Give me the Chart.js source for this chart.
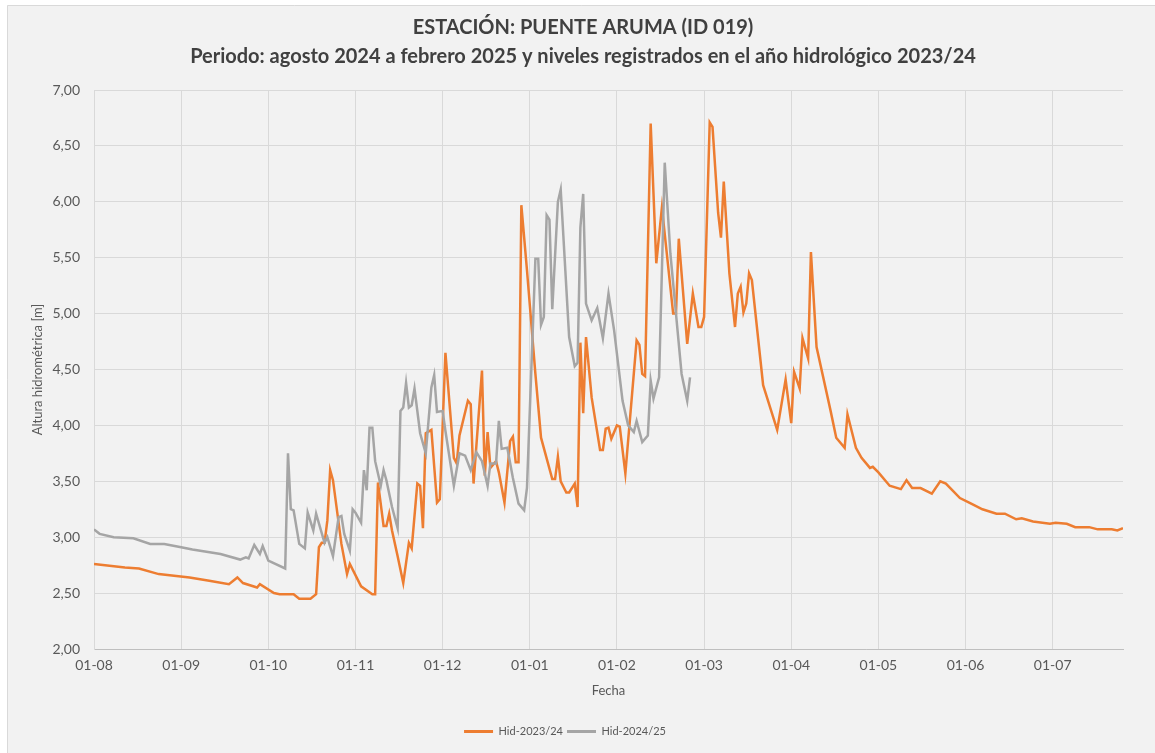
<!DOCTYPE html>
<html lang="es">
<head>
<meta charset="utf-8">
<title>Puente Aruma (ID 019)</title>
<script src="https://cdn.jsdelivr.net/npm/chart.js@4.4.1/dist/chart.umd.min.js"></script>
<style>
  html, body { margin: 0; padding: 0; background: #fff; }
  #wrap { position: relative; width: 1155px; height: 753px; }
</style>
</head>
<body>
<div id="wrap"><canvas id="chart"></canvas></div>
<script>
// titles
const titleLines = [
  'ESTACIÓN: PUENTE ARUMA (ID 019)',
  'Periodo: agosto 2024 a febrero 2025 y niveles registrados en el año hidrológico 2023/24'
];
const xTitle = 'Fecha';
const yTitle = 'Altura hidrométrica [m]';

// x axis: days counted from 01-08, one label every 31 days
const monthLabels = ['01-08','01-09','01-10','01-11','01-12','01-01','01-02','01-03','01-04','01-05','01-06','01-07'];
const monthDays = [0, 31, 62, 93, 124, 155, 186, 217, 248, 279, 310, 341];
const lastDay = 366;

// Hid-2023/24 (orange)
const hid2324Days = [0,11,16,23,34,41,48,51,53,58,59,64,66,71,73,77,79,80,81,82,83,84,85,88,90,91,95,99,100,101,
  103,104,105,106,108,110,112,113,115,116,117,118,120,122,123,125,128,129,130,133,134,135,138,139,140,141,143,144,146,148,
  149,150,151,152,154,157,159,163,164,165,166,168,169,171,172,173,174,175,177,180,181,182,183,184,186,187,189,193,194,195,
  196,198,200,202,206,207,208,211,213,215,216,217,219,220,222,223,224,226,228,229,230,231,232,233,234,238,239,243,246,248,
  249,251,252,254,255,257,262,264,267,268,271,273,276,277,279,283,287,289,291,294,298,301,303,308,312,316,321,324,328,330,
  334,340,342,346,349,354,357,362,364,366];
const hid2324 = [2.76,2.73,2.72,2.67,2.64,2.61,2.58,2.64,2.59,2.55,2.58,2.50,2.49,2.49,2.45,2.45,2.49,2.91,2.95,2.95,3.15,3.60,3.51,2.94,2.67,2.76,2.56,2.49,2.49,3.49,
  3.10,3.10,3.21,3.06,2.83,2.59,2.95,2.90,3.48,3.46,3.08,3.93,3.96,3.31,3.34,4.65,3.71,3.66,3.91,4.22,4.19,3.48,4.49,3.55,3.94,3.62,3.68,3.58,3.31,3.86,
  3.90,3.67,3.67,5.97,5.39,4.46,3.89,3.52,3.52,3.72,3.50,3.40,3.40,3.48,3.27,4.74,4.11,4.79,4.25,3.78,3.78,3.97,3.98,3.88,4.00,3.99,3.57,4.76,4.72,4.46,
  4.44,6.70,5.45,5.95,5.00,5.00,5.67,4.73,5.18,4.88,4.88,4.97,6.71,6.67,5.90,5.68,6.18,5.36,4.88,5.18,5.24,5.01,5.09,5.36,5.30,4.36,4.28,3.96,4.41,4.02,
  4.48,4.33,4.78,4.60,5.55,4.70,4.13,3.89,3.80,4.10,3.80,3.71,3.62,3.63,3.58,3.46,3.43,3.51,3.44,3.44,3.39,3.50,3.48,3.35,3.30,3.25,3.21,3.21,3.16,3.17,
  3.14,3.12,3.13,3.12,3.09,3.09,3.07,3.07,3.06,3.08];

// Hid-2024/25 (gray)
const hid2425Days = [0,2,7,14,20,25,31,35,45,52,54,55,57,59,60,62,68,69,70,71,73,75,76,78,79,82,83,85,87,88,
  89,91,92,93,95,96,97,98,99,100,102,103,104,106,108,109,110,111,112,113,114,116,118,120,121,122,124,125,128,130,
  132,134,136,138,140,141,143,144,145,147,149,151,153,154,157,158,159,160,161,162,163,165,166,169,171,172,173,174,175,177,
  179,181,183,185,188,190,192,193,195,197,198,199,201,203,205,207,209,211,212];
const hid2425 = [3.07,3.03,3.00,2.99,2.94,2.94,2.91,2.89,2.85,2.80,2.82,2.81,2.93,2.85,2.92,2.79,2.72,3.75,3.25,3.24,2.94,2.90,3.22,3.06,3.21,2.95,3.00,2.83,3.18,3.19,
  3.03,2.88,3.25,3.22,3.13,3.60,3.42,3.98,3.98,3.68,3.46,3.60,3.51,3.27,3.08,4.13,4.16,4.38,4.16,4.18,4.33,3.93,3.75,4.34,4.45,4.12,4.13,3.95,3.46,3.75,
  3.73,3.60,3.76,3.68,3.46,3.66,3.66,4.04,3.79,3.80,3.53,3.30,3.24,3.44,5.49,5.49,4.90,4.97,5.88,5.84,5.04,6.00,6.11,4.79,4.53,4.56,5.77,6.07,5.09,4.94,
  5.05,4.78,5.18,4.85,4.22,4.00,3.94,4.04,3.85,3.91,4.40,4.24,4.43,6.35,5.54,5.00,4.46,4.22,4.43];

const toPoints = (days, vals) => days.map((d, i) => ({ x: d, y: vals[i] }));

Chart.defaults.font.family = 'Lato';
Chart.defaults.color = '#595959';

// grey panel behind everything, thin border on left/top like the original frame
const panelPlugin = {
  id: 'panel',
  beforeDraw(chart) {
    const ctx = chart.ctx;
    ctx.save();
    ctx.fillStyle = '#ffffff';
    ctx.fillRect(0, 0, chart.width, chart.height);
    ctx.fillStyle = '#f2f2f2';
    ctx.fillRect(7, 5, chart.width - 7, chart.height - 5);
    ctx.strokeStyle = '#d9d9d9';
    ctx.lineWidth = 1;
    ctx.beginPath();
    ctx.moveTo(7.5, chart.height);
    ctx.lineTo(7.5, 5.5);
    ctx.lineTo(chart.width, 5.5);
    ctx.stroke();
    ctx.restore();
  }
};

// two-line title centred on the whole panel
const titlePlugin = {
  id: 'panelTitle',
  afterDraw(chart) {
    const ctx = chart.ctx;
    ctx.save();
    ctx.fillStyle = '#404040';
    ctx.font = 'bold 20px Lato';
    ctx.textAlign = 'center';
    ctx.textBaseline = 'middle';
    ctx.fillText(titleLines[0], 583, 28);
    ctx.fillText(titleLines[1], 583, 57);
    ctx.restore();
  }
};

const ctx = document.getElementById('chart').getContext('2d');
new Chart(ctx, {
  type: 'line',
  data: {
    datasets: [
      {
        label: 'Hid-2023/24',
        data: toPoints(hid2324Days, hid2324),
        borderColor: '#ed7d31',
        backgroundColor: '#ed7d31',
        borderWidth: 2.5,
        pointRadius: 0,
        tension: 0,
        order: 1
      },
      {
        label: 'Hid-2024/25',
        data: toPoints(hid2425Days, hid2425),
        borderColor: '#a5a5a5',
        backgroundColor: '#a5a5a5',
        borderWidth: 2.5,
        pointRadius: 0,
        tension: 0,
        order: 0
      }
    ]
  },
  options: {
    responsive: true,
    maintainAspectRatio: false,
    animation: false,
    layout: { padding: { left: 7, right: 32, top: 90, bottom: 6 } },
    plugins: {
      title: { display: false },
      tooltip: { enabled: false },
      legend: {
        position: 'bottom',
        labels: {
          boxWidth: 29,
          boxHeight: 3,
          padding: 4,
          color: '#595959',
          font: { size: 11 },
          generateLabels(chart) {
            const items = Chart.defaults.plugins.legend.labels.generateLabels(chart);
            items.forEach(it => { it.lineWidth = 0; });
            return items.sort((a, b) => a.datasetIndex - b.datasetIndex);
          }
        }
      }
    },
    scales: {
      x: {
        type: 'linear',
        min: 0,
        max: lastDay,
        afterBuildTicks: s => { s.ticks = monthDays.map(v => ({ value: v })); },
        afterFit: s => { s.height = 73; },
        grid: { color: '#d9d9d9', drawTicks: false },
        border: { color: '#bfbfbf' },
        ticks: {
          padding: 8,
          autoSkip: false,
          maxRotation: 0,
          font: { size: 14 },
          color: '#595959',
          callback: (v, i) => monthLabels[i]
        },
        title: { display: true, text: xTitle, color: '#595959', font: { size: 13 }, padding: { bottom: 23 } }
      },
      y: {
        min: 2,
        max: 7,
        afterBuildTicks: s => {
          const t = [];
          for (let v = 2; v <= 7.001; v += 0.5) t.push({ value: Math.round(v * 100) / 100 });
          s.ticks = t;
        },
        afterFit: s => { s.width = 87; },
        grid: { color: '#d9d9d9', drawTicks: false },
        border: { color: '#d9d9d9' },
        ticks: {
          padding: 14,
          font: { size: 14 },
          color: '#595959',
          callback: v => v.toFixed(2).replace('.', ',')
        },
        title: { display: true, text: yTitle, color: '#595959', font: { size: 13 }, padding: { top: 23 } }
      }
    }
  },
  plugins: [panelPlugin, titlePlugin]
});
</script>
</body>
</html>
